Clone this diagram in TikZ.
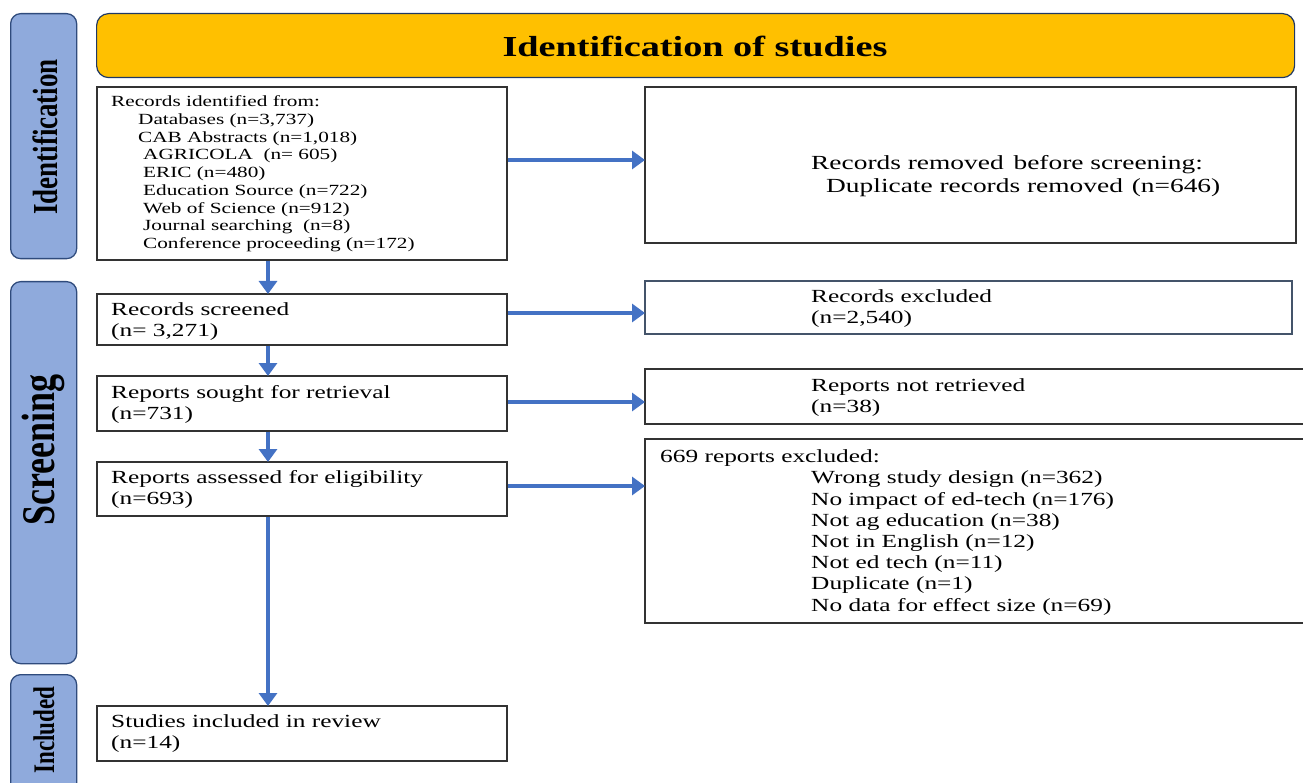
\documentclass[tikz,border=0pt]{standalone}
\usepackage{fontspec}
\setmainfont{Liberation Serif}
\newfontfamily\bodyface[FakeStretch=1.37]{Liberation Serif}
\newfontfamily\titleface[FakeStretch=1.32]{Liberation Serif}
\usetikzlibrary{arrows.meta}

\definecolor{phasefill}{HTML}{8FAADC}
\definecolor{phaseedge}{HTML}{2F4B7C}
\definecolor{banner}{HTML}{FFC000}
\definecolor{navy}{HTML}{1F3864}
\definecolor{flow}{HTML}{4472C4}
\definecolor{boxedge}{HTML}{333333}
\definecolor{slateedge}{HTML}{44546A}

\tikzset{
  phase/.style={draw=phaseedge, line width=1.3pt, fill=phasefill, rounded corners=10pt,
    anchor=north west, inner sep=0pt},
  phasetext/.style={rotate=90, inner sep=0pt},
  box/.style={draw=boxedge, line width=1.6pt, fill=white, anchor=north west, inner sep=0pt},
  txt/.style={anchor=north west, inner sep=0pt, align=left,
    font=\bodyface\fontsize{18.5}{21}\selectfont},
  flowarrow/.style={draw=flow, line width=4pt,
    -{Triangle[length=13pt,width=18pt]}, shorten >=-1pt},
}

\begin{document}
\begin{tikzpicture}[x=1pt, y=-1pt]
\clip (0,0) rectangle (1303,783);
\useasboundingbox (0,0) rectangle (1303,783);

% phase bands on the left
\node[phase, minimum width=66pt, minimum height=245pt] (bandid) at (10,13) {};
\node[phase, minimum width=66pt, minimum height=382pt] (bandscr) at (10,281) {};
\node[phase, minimum width=66pt, minimum height=140pt] (bandinc) at (10,674) {};
\node[phasetext] (lblid) at (45,137)
  {\scalebox{1}[1.3]{\fontsize{27}{27}\selectfont\bfseries Identification}};
\node[phasetext] (lblscr) at (43,450)
  {\scalebox{1}[1.3]{\fontsize{36}{36}\selectfont\bfseries Screening}};
\node[phasetext] (lblinc) at (44,730)
  {\scalebox{1}[1.3]{\fontsize{23}{23}\selectfont\bfseries Included}};

% banner
\node[draw=navy, line width=1.2pt, fill=banner, rounded corners=12pt, anchor=north west,
  minimum width=1198pt, minimum height=64pt, inner sep=0pt] (banner) at (96,13) {};
\node[inner sep=0pt] (bannertxt) at (695,46)
  {\titleface\bfseries\fontsize{29}{29}\selectfont Identification of studies};

% main column boxes
\node[box, minimum width=410pt, minimum height=173pt] (ident) at (96,86) {};
\node[box, minimum width=410pt, minimum height=51pt, line width=2pt] (screened) at (96,293) {};
\node[box, minimum width=410pt, minimum height=55pt] (sought) at (96,375) {};
\node[box, minimum width=410pt, minimum height=54pt] (assessed) at (96,461) {};
\node[box, minimum width=410pt, minimum height=55pt] (included) at (96,705) {};

% side boxes
\node[box, minimum width=651pt, minimum height=156pt] (removed) at (644,86) {};
\node[box, draw=slateedge, minimum width=647pt, minimum height=53pt] (excluded) at (644,280) {};
\node[box, minimum width=661pt, minimum height=55pt] (notretr) at (644,368) {};
\node[box, minimum width=661pt, minimum height=184pt] (elig) at (644,438) {};

% texts
\node[txt, font=\bodyface\fontsize{15.5}{17.75}\selectfont] (identtxt) at (111,95.4) {%
Records identified from:\\
\hspace*{27pt}Databases (n=3,737)\\
\hspace*{27pt}CAB Abstracts (n=1,018)\\
\hspace*{32pt}AGRICOLA\ \ (n= 605)\\
\hspace*{32pt}ERIC (n=480)\\
\hspace*{32pt}Education Source (n=722)\\
\hspace*{32pt}Web of Science (n=912)\\
\hspace*{32pt}Journal searching\ \ (n=8)\\
\hspace*{32pt}Conference proceeding (n=172)};

\node[txt] (screenedtxt) at (111,302.4) {Records screened\\(n= 3,271)};
\node[txt] (soughttxt) at (111,385.4) {Reports sought for retrieval\\(n=731)};
\node[txt] (assessedtxt) at (111,470.4) {Reports assessed for eligibility\\(n=693)};
\node[txt] (includedtxt) at (111,714.4) {Studies included in review\\(n=14)};

\node[txt, font=\bodyface\fontsize{20}{23}\selectfont] (removedtxt) at (811,155.3)
  {Records removed\hspace{3pt} before screening:\\\hspace*{15pt}Duplicate records removed\hspace{2pt} (n=646)};
\node[txt] (excludedtxt) at (811,289.4) {Records excluded\\(n=2,540)};
\node[txt] (notretrtxt) at (811,378.4) {Reports not retrieved\\(n=38)};
\node[txt, font=\bodyface\fontsize{18.5}{21.2}\selectfont] (eligtxt) at (660,449.6) {%
669 reports excluded:\\
\hspace*{151pt}Wrong study design (n=362)\\
\hspace*{151pt}No impact of ed-tech (n=176)\\
\hspace*{151pt}Not ag education (n=38)\\
\hspace*{151pt}Not in English (n=12)\\
\hspace*{151pt}Not ed tech (n=11)\\
\hspace*{151pt}Duplicate (n=1)\\
\hspace*{151pt}No data for effect size (n=69)};

% connectors
\coordinate (col) at (268,0);
\coordinate (rowid) at (0,160);
\coordinate (rowscr) at (0,313);
\coordinate (rowsought) at (0,402);
\coordinate (rowelig) at (0,486);

\draw[flowarrow] (ident.south -| col) -- (screened.north -| col);
\draw[flowarrow] (screened.south -| col) -- (sought.north -| col);
\draw[flowarrow] (sought.south -| col) -- (assessed.north -| col);
\draw[flowarrow] (assessed.south -| col) -- (included.north -| col);

\draw[flowarrow] (ident.east |- rowid) -- (removed.west |- rowid);
\draw[flowarrow] (screened.east |- rowscr) -- (excluded.west |- rowscr);
\draw[flowarrow] (sought.east |- rowsought) -- (notretr.west |- rowsought);
\draw[flowarrow] (assessed.east |- rowelig) -- (elig.west |- rowelig);
\end{tikzpicture}
\end{document}
